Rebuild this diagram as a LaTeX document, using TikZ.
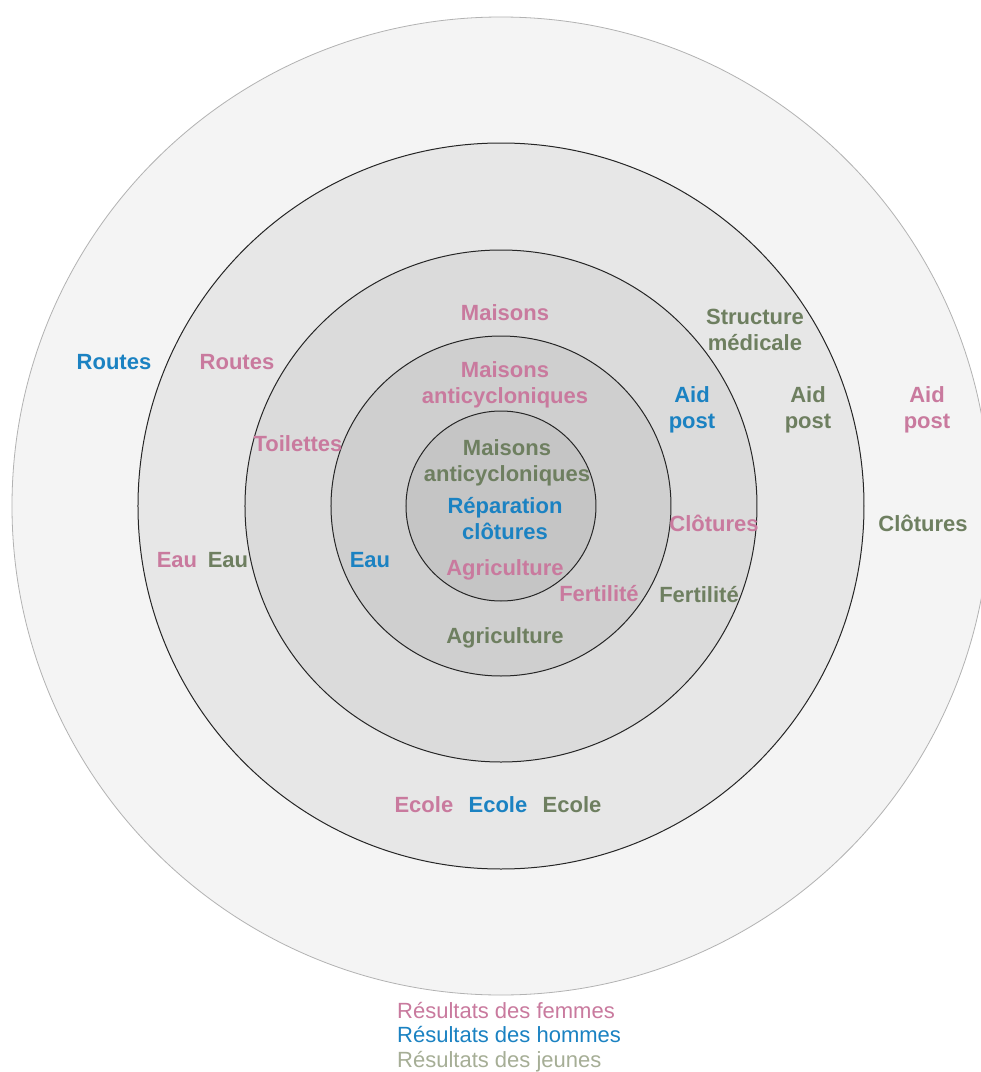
\documentclass[tikz,border=0pt]{standalone}
\usepackage{fontspec}
\setmainfont{Liberation Sans}
\usetikzlibrary{positioning}
\definecolor{rose}{HTML}{C97A9E}
\definecolor{bleu}{HTML}{1B82C2}
\definecolor{vert}{HTML}{6E7F60}
\definecolor{vertclair}{HTML}{A6AE96}
\definecolor{gris1}{HTML}{F4F4F4}
\definecolor{gris2}{HTML}{E7E7E7}
\definecolor{gris3}{HTML}{DBDBDB}
\definecolor{gris4}{HTML}{CFCFCF}
\definecolor{gris5}{HTML}{C5C5C5}
\begin{document}
\begin{tikzpicture}[x=1pt,y=1pt,
            anneau/.style={draw=black!85, line width=1pt},
            lbl/.style={font=\fontsize{22}{26}\selectfont\bfseries, align=center, inner sep=1pt},
            fem/.style={lbl, text=rose},
            hom/.style={lbl, text=bleu},
            jeu/.style={lbl, text=vert},
            legende/.style={font=\fontsize{22}{24.5}\selectfont, align=left, inner sep=0pt, anchor=west},
        ]
        \useasboundingbox (-501,-566) rectangle (480,506);
        \fill[white] (-501,-566) rectangle (480,506);
        % cercles
        \filldraw[fill=gris1, draw=black!30, line width=0.8pt] (0,0) circle (489);
        \filldraw[fill=gris2, anneau] (0,0) circle (363);
        \filldraw[fill=gris3, anneau] (0,0) circle (256);
        \filldraw[fill=gris4, anneau] (0,0) circle (170);
        \filldraw[fill=gris5, anneau] (0,0) circle (95);
        % gauche
        \node[hom] (routesH) at (-387,144) {Routes};
        \node[fem] (routesF) at (-264,144) {Routes};
        \node[fem] (toilettes) at (-203,62) {Toilettes};
        \node[fem] (eauF) at (-324,-54) {Eau};
        \node[jeu] (eauJ) at (-273,-54) {Eau};
        \node[hom] (eauH) at (-131,-54) {Eau};
        % centre
        \node[fem] (maisonsF) at (4,193) {Maisons};
        \node[fem] (maisonsAF) at (4,121) {Maisons\\anticycloniques};
        \node[jeu] (maisonsAJ) at (6,43) {Maisons\\anticycloniques};
        \node[hom] (reparation) at (4,-13) {Réparation\\clôtures};
        \node[fem] (agricultureF) at (4,-64) {Agriculture};
        \node[jeu] (agricultureJ) at (4,-132) {Agriculture};
        \node[fem] (fertiliteF) at (98,-88) {Fertilité};
        \node[jeu] (fertiliteJ) at (198,-89) {Fertilité};
        % droite
        \node[jeu] (structure) at (254,176) {Structure\\médicale};
        \node[hom] (aidH) at (191,96) {Aid\\post};
        \node[jeu] (aidJ) at (307,96) {Aid\\post};
        \node[fem] (aidF) at (426,96) {Aid\\post};
        \node[fem] (cloturesF) at (213,-17) {Clôtures};
        \node[jeu] (cloturesJ) at (422,-17) {Clôtures};
        % bas
        \node[hom] (ecoleH) at (-3,-299) {Ecole};
        \node[fem, left=13pt of ecoleH] (ecoleF) {Ecole};
        \node[jeu, right=13pt of ecoleH] (ecoleJ) {Ecole};
        \node[legende] (legende) at (-104,-531) {\textcolor{rose}{Résultats des femmes}\\
            \textcolor{bleu}{Résultats des hommes}\\
            \textcolor{vertclair}{Résultats des jeunes}};
    \end{tikzpicture}
\end{document}
